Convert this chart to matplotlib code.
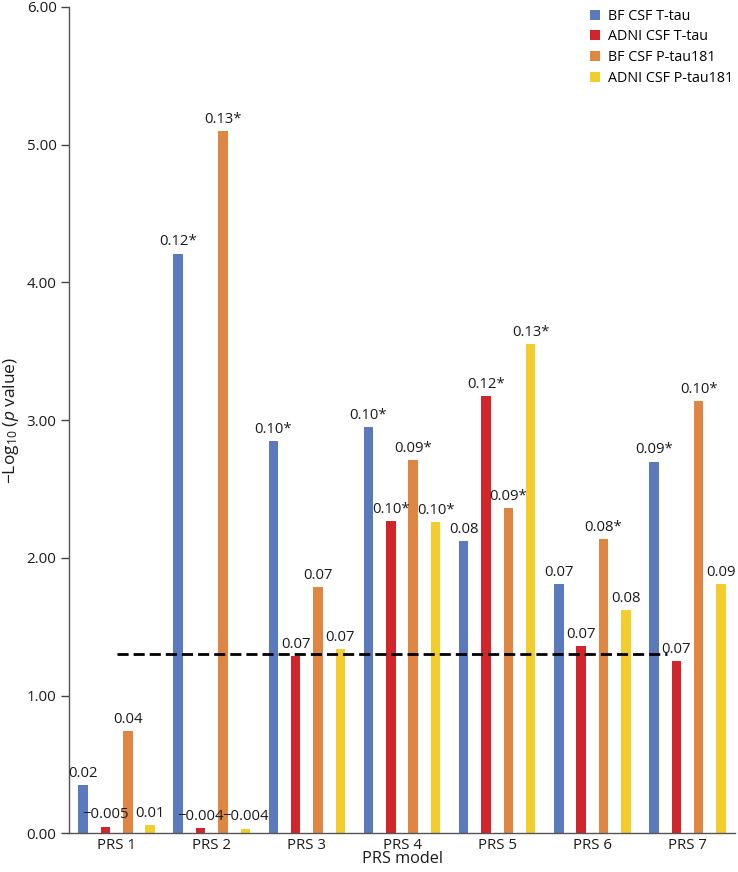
import matplotlib.pyplot as plt
import numpy as np

plt.rcParams['font.family'] = ['Open Sans', 'DejaVu Sans']
plt.rcParams['mathtext.fontset'] = 'custom'
plt.rcParams['mathtext.rm'] = 'Open Sans'
plt.rcParams['mathtext.it'] = 'Open Sans:italic'

# Data
models = ['PRS 1', 'PRS 2', 'PRS 3', 'PRS 4', 'PRS 5', 'PRS 6', 'PRS 7']
series = ['BF CSF T-tau', 'ADNI CSF T-tau', 'BF CSF P-tau181', 'ADNI CSF P-tau181']
colors = ['#5B79BD', '#D0262B', '#DF8742', '#F3CD2E']

bf_ttau = [0.35, 4.21, 2.85, 2.95, 2.12, 1.81, 2.70]
adni_ttau = [0.05, 0.04, 1.29, 2.27, 3.175, 1.36, 1.25]
bf_ptau = [0.745, 5.10, 1.79, 2.71, 2.36, 2.14, 3.14]
adni_ptau = [0.06, 0.035, 1.34, 2.26, 3.555, 1.62, 1.81]

bf_ttau_lbl = ['0.02', '0.12*', '0.10*', '0.10*', '0.08', '0.07', '0.09*']
adni_ttau_lbl = ['\u22120.005', '\u22120.004', '0.07', '0.10*', '0.12*', '0.07', '0.07']
bf_ptau_lbl = ['0.04', '0.13*', '0.07', '0.09*', '0.09*', '0.08*', '0.10*']
adni_ptau_lbl = ['0.01', '\u22120.004', '0.07', '0.10*', '0.13*', '0.08', '0.09']

values = [bf_ttau, adni_ttau, bf_ptau, adni_ptau]
labels = [bf_ttau_lbl, adni_ttau_lbl, bf_ptau_lbl, adni_ptau_lbl]
threshold = -np.log10(0.05)

fig = plt.figure(figsize=(7.38, 8.72), dpi=100)
ax = fig.add_axes([0.0935, 0.0442, 0.9025, 0.9478])

x = np.arange(len(models))
width = 0.1
step = 0.235
for i, (vals, lbls) in enumerate(zip(values, labels)):
    pos = x + (i - 1.5) * step
    ax.bar(pos, vals, width=width, color=colors[i], label=series[i], zorder=2)
    for px, v, t in zip(pos, vals, lbls):
        ax.annotate(t, (px, v), xytext=(0, 3), textcoords='offset points',
                    ha='center', va='bottom', fontsize=10.7, color='#1a1a1a', zorder=4)

ax.plot([0, 5.78], [threshold, threshold], color='black', lw=2,
        ls=(0, (4, 1.8)), zorder=3)

ax.set_xlim(-0.5, 6.5)
ax.set_ylim(0, 6)
ax.set_xticks(x)
ax.set_xticklabels(models, fontsize=10.8, color='#1a1a1a')
ax.tick_params(axis='x', length=0, pad=3)
ax.set_yticks(np.arange(0, 7, 1))
ax.set_yticklabels([f'{v:.2f}' for v in range(7)], fontsize=10.8, color='#1a1a1a')
ax.tick_params(axis='y', length=6, width=1, color='#444444', pad=3)
for s in ['top', 'right']:
    ax.spines[s].set_visible(False)
for s in ['left', 'bottom']:
    ax.spines[s].set_color('#555555')
    ax.spines[s].set_linewidth(1)

ax.set_xlabel('PRS model', fontsize=11.7, labelpad=-1, color='#1a1a1a')
ax.set_ylabel(r'$\mathrm{-Log}_{10}$ ($\mathit{p}$ value)', fontsize=12.5, labelpad=4,
              color='#1a1a1a')

leg = ax.legend(loc='upper right', bbox_to_anchor=(1.005, 1.005), frameon=False,
                fontsize=10.3, handlelength=0.7, handleheight=0.7, handletextpad=0.5,
                labelspacing=0.4, borderaxespad=0)

fig.savefig('out.png', dpi=100)
